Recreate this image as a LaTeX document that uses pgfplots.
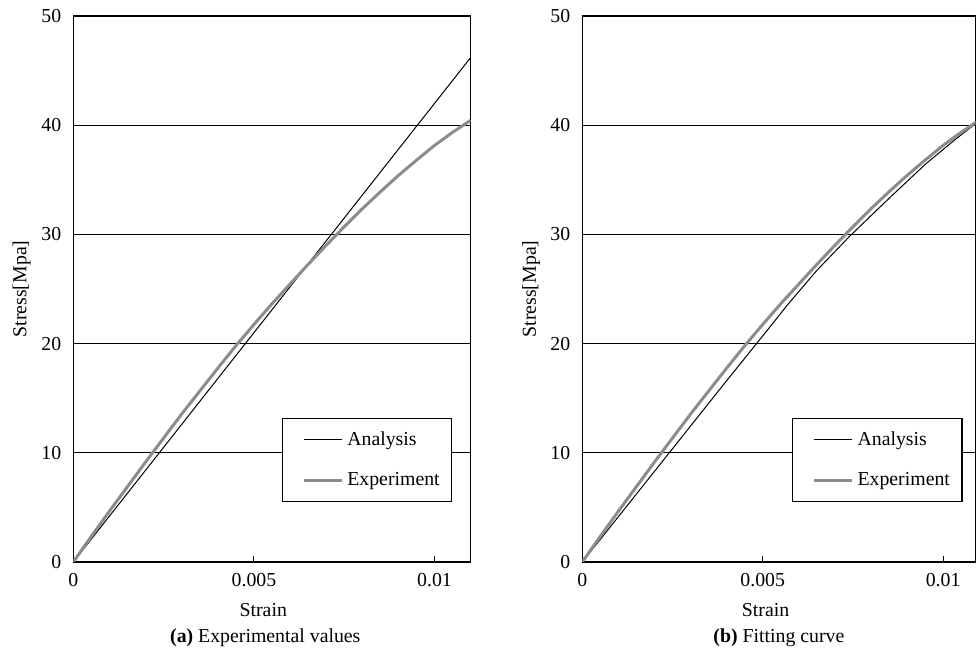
\documentclass[border=0pt]{standalone}
\usepackage{pgfplots}
\pgfplotsset{compat=1.18}
\usepackage{fontspec}
\setmainfont{Liberation Serif}
\definecolor{expgray}{RGB}{140,140,140}
\newcommand{\chartfont}{\fontsize{9.9}{11.5}\selectfont}
\pgfplotsset{
  panel/.style={
    scale only axis=true,
    height=273pt,
    ymin=0, ymax=50,
    xmin=0,
    xtick={0,0.005,0.01}, xticklabels={0,0.005,0.01},
    scaled x ticks=false,
    ytick={0,10,20,30,40,50},
    ymajorgrids=true,
    major grid style={black, line width=0.5pt},
    axis line style={black, line width=0.7pt},
    xtick pos=bottom, xtick align=inside,
    ytick style={draw=none},
    major tick length=3pt,
    tick style={black, line width=0.5pt},
    /pgf/number format/assume math mode=true,
    tick label style={font=\chartfont},
    xticklabel style={anchor=base, yshift=-12.5pt},
    yticklabel style={xshift=-2.5pt},
    label style={font=\chartfont},
    xlabel={Strain}, ylabel={Stress[Mpa]},
    ylabel style={at={(axis description cs:-0.13,0.5)}, anchor=center},
    legend cell align=left,
    legend style={anchor=south east, draw=black, line width=0.7pt,
      fill=white, font=\chartfont, row sep=8pt,
      inner xsep=4pt, inner ysep=4.5pt},
    legend image code/.code={\path (0pt,0pt); \draw[#1] (6pt,0pt) -- (25pt,0pt);},
    clip=true,
  }
}
\begin{document}
\begin{tikzpicture}
\begin{axis}[panel, name=a, width=198.7pt, xmax=0.011,
  xlabel style={at={(axis description cs:0.478,0)}, anchor=base, yshift=-27.5pt},
  legend style={at={(0.954,0.11)}}]
\addplot[black, line width=0.5pt] coordinates {(0,0) (0.011,46.2)};
\addlegendentry{Analysis}
\addplot[expgray, line width=1.5pt] coordinates {
(0,0) (0.0005,2.35) (0.001,4.65) (0.0015,6.9) (0.002,9.15) (0.0025,11.35) (0.003,13.55)
(0.0035,15.65) (0.004,17.75) (0.0045,19.8) (0.005,21.75) (0.0055,23.65) (0.006,25.45)
(0.0065,27.25) (0.007,29.0) (0.0075,30.7) (0.008,32.35) (0.0085,33.9) (0.009,35.4)
(0.0095,36.8) (0.01,38.15) (0.0105,39.35) (0.011,40.45)};
\addlegendentry{Experiment}
\end{axis}
\node[font=\chartfont, anchor=base] at ([xshift=96pt, yshift=-40.5pt]a.south west) {\textbf{(a)} Experimental values};
\begin{axis}[panel, name=b, width=196.65pt, xmax=0.0109, at={(254.5pt,0pt)}, anchor=origin,
  xlabel style={at={(axis description cs:0.466,0)}, anchor=base, yshift=-27.5pt},
  legend style={at={(0.967,0.11)}}]
\addplot[black, line width=0.5pt] coordinates {
(0,0) (0.001,4.15) (0.002,8.3) (0.003,12.45) (0.004,16.6) (0.005,20.7) (0.0057,23.6)
(0.0065,26.7) (0.0074,29.8) (0.0085,33.3) (0.0095,36.4) (0.0103,38.6) (0.011,40.4)};
\addlegendentry{Analysis}
\addplot[expgray, line width=1.5pt] coordinates {
(0,0) (0.0005,2.35) (0.001,4.65) (0.0015,6.9) (0.002,9.15) (0.0025,11.35) (0.003,13.55)
(0.0035,15.65) (0.004,17.75) (0.0045,19.8) (0.005,21.75) (0.0055,23.65) (0.006,25.45)
(0.0065,27.25) (0.007,29.0) (0.0075,30.7) (0.008,32.35) (0.0085,33.9) (0.009,35.4)
(0.0095,36.8) (0.01,38.15) (0.0105,39.35) (0.011,40.45)};
\addlegendentry{Experiment}
\end{axis}
\node[font=\chartfont, anchor=base] at ([xshift=98.3pt, yshift=-40.5pt]b.south west) {\textbf{(b)} Fitting curve};
\pgfresetboundingbox
\path[use as bounding box] (-36.65pt,-44.5pt) rectangle (452.85pt,281pt);
\end{tikzpicture}
\end{document}
